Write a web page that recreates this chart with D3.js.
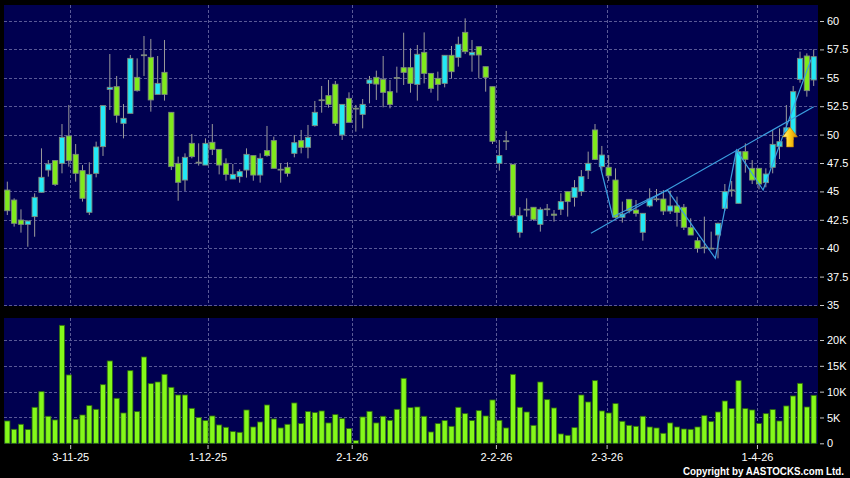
<!DOCTYPE html>
<html><head><meta charset="utf-8">
<script src="https://cdn.jsdelivr.net/npm/d3@7"></script>
<style>html,body{margin:0;padding:0;background:#000;}svg{display:block;}</style>
</head><body><svg id="c" width="850" height="478"></svg>
<script>
// ---- data ----
const openP  = [45.12,44.24,42.48,42.10,42.78,44.92,46.88,47.71,47.47,49.88,48.26,46.83,43.16,46.59,48.94,53.98,54.22,50.99,51.87,55.04,57.00,56.80,53.54,55.48,51.96,47.47,46.00,49.23,47.55,47.32,49.32,48.70,47.47,46.09,46.30,46.88,48.15,46.44,48.59,49.47,46.93,47.12,48.35,49.47,48.88,50.79,53.04,53.43,54.43,49.97,53.19,52.30,51.78,54.51,55.04,54.86,53.78,55.00,55.89,55.89,54.42,57.24,55.39,54.95,54.51,56.98,56.80,59.00,57.01,57.74,55.98,54.22,47.47,49.43,47.38,41.40,43.41,43.60,42.10,43.44,43.00,43.42,44.98,44.48,44.98,46.83,50.41,47.18,47.12,46.00,42.72,44.30,43.36,41.40,43.72,44.32,44.33,43.27,43.72,43.60,41.81,40.66,40.07,39.98,41.16,43.51,45.11,43.95,48.50,47.03,47.03,45.77,47.12,48.94,50.20,49.82,54.86,56.92,54.81];
const highP  = [45.86,44.39,43.42,42.45,44.83,48.79,47.76,47.75,50.93,52.61,49.17,47.32,47.56,49.38,52.55,57.09,55.16,52.69,57.01,56.71,58.68,58.42,56.92,58.33,51.96,48.06,48.35,50.05,49.23,49.67,50.93,48.70,47.91,47.41,46.94,48.79,48.15,48.35,50.76,49.82,47.47,47.56,49.97,50.41,50.85,52.96,54.28,54.81,54.72,52.66,53.72,52.61,53.13,55.16,55.63,56.92,54.81,55.98,58.97,57.59,57.89,59.00,55.39,55.54,56.98,57.80,58.62,60.23,58.33,57.74,55.98,54.22,49.53,50.32,47.38,43.60,44.39,43.60,43.60,43.89,43.36,44.83,44.98,46.00,46.88,48.50,50.93,49.00,48.20,47.03,44.10,44.30,44.24,43.07,45.27,45.21,45.12,45.06,44.54,43.89,42.63,40.96,42.78,41.46,42.25,45.65,45.92,48.64,49.23,47.76,47.03,47.03,50.41,50.55,52.60,54.28,57.30,57.15,57.50];
const lowP   = [42.92,41.90,41.37,40.13,41.01,44.90,46.30,45.48,46.59,47.18,45.86,44.10,42.92,46.24,48.12,52.17,51.05,49.67,51.87,53.78,55.16,52.02,53.54,52.99,46.88,44.18,45.04,47.91,47.27,47.32,48.20,46.50,45.94,46.09,45.77,46.21,45.94,45.77,48.06,47.03,45.77,46.30,48.00,48.35,47.91,50.70,51.93,52.37,50.76,49.53,51.08,50.26,50.55,52.75,53.05,52.40,52.31,53.69,54.37,53.69,52.99,54.51,53.69,52.99,54.16,54.95,55.98,57.09,55.54,54.95,53.78,49.17,46.83,48.64,42.72,40.93,42.78,42.42,41.46,42.83,42.34,42.92,42.78,43.66,44.60,46.09,47.76,46.83,45.92,42.63,42.25,43.07,42.78,40.66,43.60,44.10,42.92,43.01,41.90,41.60,41.16,39.61,39.55,39.90,39.11,43.30,44.54,43.95,46.65,45.65,45.18,45.36,46.59,47.85,49.60,49.53,54.57,53.34,54.28];
const closeP = [43.30,42.19,42.10,42.39,44.48,46.24,47.41,45.62,49.76,47.71,46.59,44.39,46.50,48.91,52.55,54.16,51.70,51.43,56.71,53.87,57.02,53.05,54.51,53.54,47.18,45.80,48.00,48.06,47.57,49.23,48.70,47.32,46.50,46.50,46.74,48.26,46.44,47.91,48.15,47.03,46.95,46.59,49.29,48.88,49.76,51.96,53.06,52.66,50.99,52.66,51.08,52.32,52.66,54.81,54.45,53.72,52.66,55.02,55.48,54.51,57.07,55.39,54.07,54.42,56.98,55.54,57.95,57.30,57.24,57.01,55.04,49.41,48.15,49.45,42.86,42.86,43.43,42.54,43.42,43.46,42.90,44.10,44.10,45.33,46.30,47.47,47.82,48.20,46.38,42.72,43.01,43.30,43.07,43.07,44.33,44.34,43.27,43.72,43.16,41.84,41.16,39.99,40.09,40.00,42.19,44.98,45.13,48.50,47.82,46.00,45.65,46.53,49.14,49.38,50.60,53.78,56.71,53.87,56.86];
const volumeK = [4.32,2.71,3.68,2.65,6.97,10.0,5.23,4.52,22.84,13.23,4.65,5.48,7.29,6.58,11.35,15.94,8.71,5.87,14.06,6.13,16.71,11.55,11.87,13.35,10.84,9.35,9.35,6.77,4.97,4.39,5.29,3.55,3.10,2.26,2.13,6.45,3.16,4.13,7.42,4.71,2.97,3.68,7.81,3.81,6.13,5.94,6.26,3.94,5.55,4.77,2.84,0.52,5.10,6.19,3.94,5.23,4.45,6.58,12.58,6.90,7.03,5.23,2.19,3.81,4.39,3.29,6.97,5.74,4.39,6.32,5.29,8.39,4.45,2.97,13.35,6.97,6.06,3.48,11.87,8.45,6.84,1.81,1.55,3.03,9.35,8.0,12.13,6.26,5.87,7.68,4.26,3.48,3.29,5.23,3.16,2.97,1.94,3.94,3.16,2.77,2.71,3.16,5.35,4.19,6.06,8.19,6.71,12.13,6.71,6.45,3.81,5.74,6.52,4.32,7.23,9.16,11.61,7.03,9.29];
const dateLabels = ["3-11-25","1-12-25","2-1-26","2-2-26","2-3-26","1-4-26"];
const dateIndex  = [9.2,29.3,50.4,71.5,87.7,109.7];
const priceTicks = [35,37.5,40,42.5,45,47.5,50,52.5,55,57.5,60];
const volTicks   = [0,5,10,15,20];
// annotation lines (candle index, price)
const trendIdx   = [85.4,118.0];
const trendPrice = [41.31,52.46];
const zigIdx     = [86.65,88.6,96.6,103.6,106.7,110.6,117.6];
const zigPrice   = [47.5,42.77,45.12,39.11,48.64,45.12,56.6];
const arrowIdx = 114.53, arrowPrice = 50.67;

// ---- layout ----
const svg = d3.select('#c');
const P = {l:4, r:818, t:5, b:306};
const V = {t:318, b:444};
const x = d3.scaleLinear().domain([-0.5,118.5]).range([3.9,817.1]);
const y = d3.scaleLinear().domain([35,60]).range([305,21]);
const yv = d3.scaleLinear().domain([0,20]).range([443.3,340]);
const NAVY = '#000050', GRID = '#5a5a96';
const GREEN = '#80ea1c', CYAN = '#22e8f6';

svg.append('rect').attr('width',850).attr('height',478).attr('fill','#000');
svg.append('rect').attr('x',P.l).attr('y',P.t).attr('width',P.r-P.l).attr('height',P.b-P.t).attr('fill',NAVY);
svg.append('rect').attr('x',P.l).attr('y',V.t).attr('width',P.r-P.l).attr('height',V.b-V.t).attr('fill',NAVY);

// grids
const g = svg.append('g').attr('stroke',GRID).attr('stroke-width',1).attr('stroke-dasharray','3,2');
g.selectAll('.hp').data(priceTicks).join('line')
  .attr('x1',P.l).attr('x2',P.r).attr('y1',d=>Math.round(y(d))+0.5).attr('y2',d=>Math.round(y(d))+0.5);
g.selectAll('.hv').data(volTicks.filter(d=>d>0)).join('line')
  .attr('x1',P.l).attr('x2',P.r).attr('y1',d=>Math.round(yv(d))+0.5).attr('y2',d=>Math.round(yv(d))+0.5);
g.selectAll('.vp').data(dateIndex).join('line')
  .attr('x1',d=>Math.round(x(d))+0.5).attr('x2',d=>Math.round(x(d))+0.5).attr('y1',P.t).attr('y2',P.b);
g.selectAll('.vv').data(dateIndex).join('line')
  .attr('x1',d=>Math.round(x(d))+0.5).attr('x2',d=>Math.round(x(d))+0.5).attr('y1',V.t).attr('y2',V.b);

// candles
const idx = d3.range(openP.length);
const cg = svg.append('g');
cg.selectAll('line.w').data(idx).join('line').attr('class','w')
  .attr('x1',i=>x(i)).attr('x2',i=>x(i)).attr('y1',i=>y(highP[i])).attr('y2',i=>y(lowP[i]))
  .attr('stroke','#9a9a9a').attr('stroke-width',1);
cg.selectAll('rect.b').data(idx).join('rect').attr('class','b')
  .attr('x',i=>x(i)-2.6).attr('width',5.2)
  .attr('y',i=>y(Math.max(openP[i],closeP[i])))
  .attr('height',i=>Math.max(0.8,Math.abs(y(openP[i])-y(closeP[i]))))
  .attr('fill',i=>Math.abs(closeP[i]-openP[i])<0.05?'#9a9a9a':(closeP[i]>openP[i]?CYAN:GREEN))
  .attr('stroke','#7d8a7d').attr('stroke-width',0.9);

// annotation lines
const lineGen = d3.line().x(d=>x(d[0])).y(d=>y(d[1]));
svg.append('path').attr('d',lineGen(d3.zip(trendIdx,trendPrice)))
  .attr('fill','none').attr('stroke','#3b9fe0').attr('stroke-width',1.2);
svg.append('path').attr('d',lineGen(d3.zip(zigIdx,zigPrice)))
  .attr('fill','none').attr('stroke','#3b9fe0').attr('stroke-width',1.2);

// arrow
const defs = svg.append('defs');
const grad = defs.append('linearGradient').attr('id','ag').attr('x1',0).attr('x2',1).attr('y1',0).attr('y2',0);
grad.append('stop').attr('offset','0%').attr('stop-color','#fff2a0');
grad.append('stop').attr('offset','45%').attr('stop-color','#ffd21a');
grad.append('stop').attr('offset','100%').attr('stop-color','#d88a00');
const ax = x(arrowIdx), ay = y(arrowPrice);
svg.append('path')
  .attr('d',`M${ax},${ay} L${ax+7.5},${ay+10} L${ax+3.5},${ay+10} L${ax+3.5},${ay+20} L${ax-3.5},${ay+20} L${ax-3.5},${ay+10} L${ax-7.5},${ay+10} Z`)
  .attr('fill','url(#ag)').attr('stroke','#b07000').attr('stroke-width',0.6);

// volume bars
svg.append('g').selectAll('rect').data(idx).join('rect')
  .attr('x',i=>x(i)-2.6).attr('width',5.2)
  .attr('y',i=>yv(volumeK[i])).attr('height',i=>yv(0)-yv(volumeK[i]))
  .attr('fill','#84f81a').attr('stroke','#2e6a10').attr('stroke-width',0.8);

// axes
const fmtP = d => (d%1 ? d.toFixed(1) : String(d));
const ayP = svg.append('g').attr('transform','translate(820,0)')
  .call(d3.axisRight(y).tickValues(priceTicks).tickFormat(fmtP).tickSize(4).tickPadding(3));
const ayV = svg.append('g').attr('transform','translate(820,0)')
  .call(d3.axisRight(yv).tickValues(volTicks).tickFormat(d=>d===0?'0':d+'K').tickSize(4).tickPadding(3));
const axX = svg.append('g').attr('transform','translate(0,445)')
  .call(d3.axisBottom(x).tickValues(dateIndex).tickFormat((d,i)=>dateLabels[i]).tickSize(4).tickPadding(4));
[ayP,ayV,axX].forEach(a=>{
  a.select('.domain').remove();
  a.selectAll('line').attr('stroke','#c8c8c8');
  a.selectAll('text').attr('fill','#fff').style('font-family','"Liberation Sans",Arial,sans-serif').style('font-size','11px');
});

svg.append('text').attr('x',844).attr('y',475).attr('text-anchor','end')
  .attr('fill','#fff').style('font-family','"Liberation Sans",Arial,sans-serif').style('font-size','10px').style('font-weight','bold')
  .attr('textLength',161).attr('lengthAdjust','spacingAndGlyphs')
  .text('Copyright by AASTOCKS.com Ltd.');
</script></body></html>
